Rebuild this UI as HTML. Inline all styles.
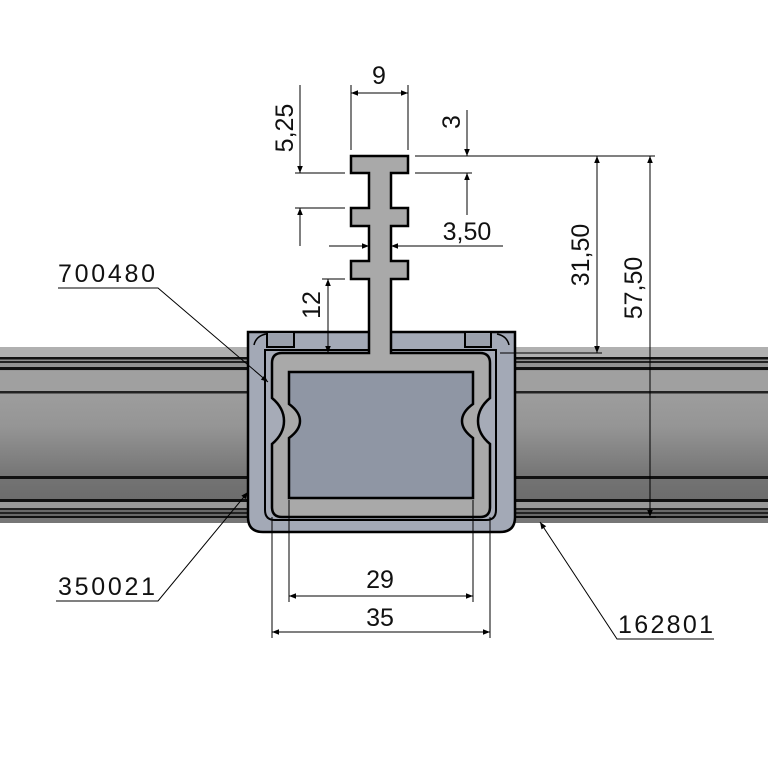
<!DOCTYPE html>
<html><head><style>html,body{margin:0;padding:0;background:#fff}svg{display:block}</style></head>
<body>
<svg width="768" height="768" viewBox="0 0 768 768" xmlns="http://www.w3.org/2000/svg" font-family="Liberation Sans, sans-serif">
<defs>
<linearGradient id="rail" x1="0" y1="0" x2="0" y2="1">
<stop offset="0" stop-color="#858585"/>
<stop offset="0.2" stop-color="#a0a0a0"/>
<stop offset="0.45" stop-color="#959595"/>
<stop offset="0.75" stop-color="#737373"/>
<stop offset="1" stop-color="#656565"/>
</linearGradient>
<marker id="a" viewBox="0 0 10 10" refX="10" refY="5" markerWidth="14" markerHeight="7" orient="auto-start-reverse" markerUnits="userSpaceOnUse"><path d="M0,1 L10,5 L0,9z" fill="#000"/></marker>
</defs>
<rect x="0" y="347" width="768" height="176" fill="url(#rail)"/>
<rect x="0" y="347" width="768" height="10" fill="#b0b0b0"/>
<rect x="0" y="357" width="768" height="2.5" fill="#111"/>
<rect x="0" y="361" width="768" height="2" fill="#222"/>
<rect x="0" y="367" width="768" height="3" fill="#111"/>
<rect x="0" y="371" width="768" height="20" fill="#a0a0a0"/>
<rect x="0" y="391" width="768" height="2.5" fill="#222"/>
<rect x="0" y="476" width="768" height="3" fill="#111"/>
<rect x="0" y="499" width="768" height="3" fill="#111"/>
<rect x="0" y="502" width="768" height="6" fill="#989898"/>
<rect x="0" y="508" width="768" height="2" fill="#222"/>
<rect x="0" y="512" width="768" height="2" fill="#222"/>
<rect x="0" y="516" width="768" height="2" fill="#111"/>
<rect x="0" y="518" width="768" height="5" fill="#767676"/>
<path d="M248,332 H515 V517 Q515,532 500,532 H263 Q248,532 248,517 Z" fill="#a3a9b6" stroke="#000" stroke-width="2.5"/>
<path d="M265,350 H496 V510 Q496,520 486,520 H275 Q265,520 265,510 Z" fill="#a6abb7" stroke="#000" stroke-width="2"/>
<rect x="267" y="332" width="27" height="15" fill="#9aa0ac" stroke="#000" stroke-width="2"/>
<rect x="465" y="332" width="26" height="15" fill="#9aa0ac" stroke="#000" stroke-width="2"/>
<path d="M254,345 Q256,336 266,334" fill="none" stroke="#000" stroke-width="1.5"/>
<path d="M509,345 Q507,336 497,334" fill="none" stroke="#000" stroke-width="1.5"/>
<path d="M282,353 H369 V279 H351 V261 H369 V226 H351 V208 H369 V173 H351 V156 H408 V173 H391 V208 H408 V226 H391 V261 H408 V279 H391 V353 H480 Q490,353 490,363 V398 Q478,408 478,421 Q478,434 490,444 V507 Q490,517 480,517 H282 Q272,517 272,507 V444 Q284,434 284,421 Q284,408 272,398 V363 Q272,353 282,353 Z" fill="#a9a9a9" stroke="#000" stroke-width="2.5"/>
<path d="M289,372 H473 V404 Q462,412 462,421 Q462,430 473,438 V498 H289 V438 Q300,430 300,421 Q300,412 289,404 Z" fill="#8f96a4" stroke="#000" stroke-width="2.5"/>
<g stroke="#000" stroke-width="1" fill="none">
<line x1="351" y1="85" x2="351" y2="150"/><line x1="408" y1="85" x2="408" y2="150"/>
<line x1="351" y1="93" x2="408" y2="93" marker-start="url(#a)" marker-end="url(#a)"/>
<line x1="295" y1="173" x2="345" y2="173"/><line x1="295" y1="208" x2="345" y2="208"/>
<line x1="300" y1="85" x2="300" y2="173" marker-end="url(#a)"/>
<line x1="300" y1="246" x2="300" y2="208" marker-end="url(#a)"/>
<line x1="415" y1="156" x2="655" y2="156"/><line x1="415" y1="173" x2="472" y2="173"/>
<line x1="467" y1="110" x2="467" y2="156" marker-end="url(#a)"/>
<line x1="467" y1="215" x2="467" y2="173" marker-end="url(#a)"/>
<line x1="329" y1="246" x2="369" y2="246" marker-end="url(#a)"/>
<line x1="503" y1="246" x2="391" y2="246" marker-end="url(#a)"/>
<line x1="322" y1="279" x2="345" y2="279"/>
<line x1="328" y1="279" x2="328" y2="353" marker-start="url(#a)" marker-end="url(#a)"/>
<line x1="500" y1="353" x2="602" y2="353"/>
<line x1="597" y1="156" x2="597" y2="353" marker-start="url(#a)" marker-end="url(#a)"/>
<line x1="515" y1="517" x2="656" y2="517"/>
<line x1="650" y1="156" x2="650" y2="517" marker-start="url(#a)" marker-end="url(#a)"/>
<line x1="289" y1="500" x2="289" y2="602"/><line x1="473" y1="500" x2="473" y2="602"/>
<line x1="289" y1="596" x2="473" y2="596" marker-start="url(#a)" marker-end="url(#a)"/>
<line x1="272" y1="517" x2="272" y2="638"/><line x1="490" y1="517" x2="490" y2="638"/>
<line x1="272" y1="632" x2="490" y2="632" marker-start="url(#a)" marker-end="url(#a)"/>
<polyline points="58,288 158,288 268,382" marker-end="url(#a)"/>
<polyline points="56,601 158,601 248,492" marker-end="url(#a)"/>
<polyline points="714,639 617,639 540,522" marker-end="url(#a)"/>
</g>
<g font-size="25" fill="#111">
<text x="379" y="84" text-anchor="middle">9</text>
<text x="467" y="240" text-anchor="middle">3,50</text>
<text x="380" y="588" text-anchor="middle">29</text>
<text x="380" y="626" text-anchor="middle">35</text>
<text x="58" y="282" textLength="97">700480</text>
<text x="58" y="595" textLength="97">350021</text>
<text x="618" y="633" textLength="95">162801</text>
<text transform="translate(293,128) rotate(-90)" text-anchor="middle">5,25</text>
<text transform="translate(460,122) rotate(-90)" text-anchor="middle">3</text>
<text transform="translate(320,305) rotate(-90)" text-anchor="middle">12</text>
<text transform="translate(589,255) rotate(-90)" text-anchor="middle">31,50</text>
<text transform="translate(642,288) rotate(-90)" text-anchor="middle">57,50</text>
</g>
</svg>
</body></html>
